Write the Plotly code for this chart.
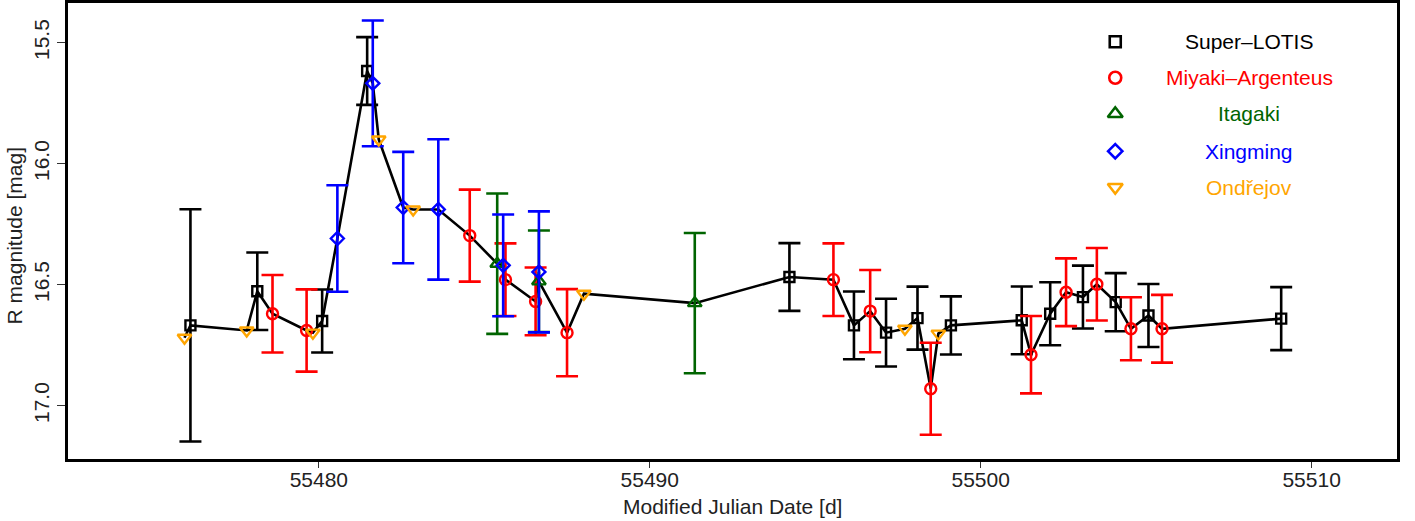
import plotly.graph_objects as go

# ---- data (MJD, R magnitude, 1-sigma error) ----
lotis_t = [55476.12, 55478.14, 55480.10, 55481.46, 55494.22, 55496.17, 55497.14, 55498.09,
           55499.10, 55501.24, 55502.10, 55503.09, 55504.08, 55505.07, 55509.08]
lotis_m = [16.668, 16.527, 16.650, 15.617, 16.468, 16.668, 16.698, 16.638,
           16.668, 16.647, 16.620, 16.551, 16.572, 16.627, 16.640]
lotis_e = [0.48, 0.16, 0.13, 0.14, 0.14, 0.14, 0.14, 0.13, 0.12, 0.14, 0.13, 0.13, 0.12, 0.13, 0.13]

miyaki_t = [55478.60, 55479.63, 55484.56, 55485.64, 55486.55, 55487.50, 55495.55,
            55496.66, 55498.49, 55501.52, 55502.58, 55503.51, 55504.54, 55505.48]
miyaki_m = [16.620, 16.689, 16.297, 16.479, 16.569, 16.698, 16.479,
            16.609, 16.930, 16.789, 16.531, 16.498, 16.682, 16.682]
miyaki_e = [0.16, 0.17, 0.19, 0.15, 0.14, 0.18, 0.15, 0.17, 0.19, 0.16, 0.14, 0.15, 0.13, 0.14]

itagaki_t = [55485.39, 55486.65, 55491.36]
itagaki_m = [16.413, 16.486, 16.576]
itagaki_e = [0.29, 0.21, 0.29]

xingming_t = [55480.56, 55481.63, 55482.55, 55483.61, 55485.57, 55486.65]
xingming_m = [16.309, 15.668, 16.181, 16.189, 16.420, 16.447]
xingming_e = [0.22, 0.26, 0.23, 0.29, 0.21, 0.25]

ondrejov_t = [55475.94, 55477.82, 55479.82, 55481.81, 55482.85, 55488.01, 55497.71, 55498.72]
ondrejov_m = [16.719, 16.689, 16.698, 15.900, 16.189, 16.537, 16.682, 16.702]

series_names = ["Super\u2013LOTIS", "Miyaki\u2013Argenteus", "Itagaki", "Xingming", "Ondřejov"]
series_colors = ["#000000", "#FF0000", "#006400", "#0000FF", "#FFA500"]
series_symbols = ["square-open", "circle-open", "triangle-up-open", "diamond-open", "triangle-down-open"]
series_sizes = [10, 11, 12, 10, 12]

xticks = [55480, 55490, 55500, 55510]
yticks = [15.5, 16.0, 16.5, 17.0]

FONT = "Liberation Sans, Arial, Helvetica, sans-serif"
TXT = "#222222"

series = [
    (lotis_t, lotis_m, lotis_e),
    (miyaki_t, miyaki_m, miyaki_e),
    (itagaki_t, itagaki_m, itagaki_e),
    (xingming_t, xingming_m, xingming_e),
    (ondrejov_t, ondrejov_m, None),
]

fig = go.Figure()

# combined light curve line through all points in time order
allpts = []
for t, m, _ in series:
    allpts += list(zip(t, m))
allpts.sort()
fig.add_trace(go.Scatter(x=[p[0] for p in allpts], y=[p[1] for p in allpts], mode="lines",
                         line=dict(color="black", width=2.6), showlegend=False, hoverinfo="skip"))

for (t, m, e), name, col, sym, sz in zip(series, series_names, series_colors, series_symbols, series_sizes):
    kw = {}
    if e is not None:
        kw["error_y"] = dict(type="data", array=e, symmetric=True, color=col, thickness=2.6, width=11)
    fig.add_trace(go.Scatter(x=t, y=m, mode="markers", name=name,
                             marker=dict(symbol=sym, size=sz, color=col, line=dict(width=2.4, color=col)),
                             showlegend=False, **kw))

# custom legend (R style: symbol then centred text)
leg_y = [0.915, 0.836, 0.757, 0.675, 0.596]
leg_mx = 0.788
leg_tx = 0.889
for name, col, sym, sz, yy in zip(series_names, series_colors, series_symbols, series_sizes, leg_y):
    fig.add_trace(go.Scatter(x=[leg_mx], y=[yy], xaxis="x2", yaxis="y2", mode="markers",
                             marker=dict(symbol=sym, size=sz + 1, color=col, line=dict(width=2.6, color=col)),
                             showlegend=False, hoverinfo="skip"))
    fig.add_annotation(x=leg_tx, y=yy, xref="x2", yref="y2", text=name, showarrow=False,
                       xanchor="center", yanchor="middle", font=dict(family=FONT, size=21, color=col))

# axis titles
fig.add_annotation(x=0.5, y=-0.104, xref="paper", yref="paper", text="Modified Julian Date [d]",
                   showarrow=False, xanchor="center", yanchor="middle",
                   font=dict(family=FONT, size=21, color=TXT))
fig.add_annotation(x=-0.040, y=0.49, xref="paper", yref="paper", text="R magnitude [mag]",
                   showarrow=False, xanchor="center", yanchor="middle", textangle=-90,
                   font=dict(family=FONT, size=21, color=TXT))

fig.update_layout(
    width=1415, height=521,
    margin=dict(l=68, r=18, t=3, b=62, autoexpand=False),
    paper_bgcolor="white", plot_bgcolor="white",
    showlegend=False,
    font=dict(family=FONT, size=21, color=TXT),
    xaxis=dict(range=[55472.42, 55512.58], tickvals=xticks, ticktext=[str(v) for v in xticks],
               automargin=False, ticklabelstandoff=-6,
               showgrid=False, zeroline=False, showline=True, linecolor="black", linewidth=3, mirror=True,
               ticks="outside", ticklen=6, tickwidth=1, tickcolor="#333333",
               tickfont=dict(family=FONT, size=21, color=TXT)),
    yaxis=dict(range=[17.22, 15.336], tickvals=yticks, ticktext=["%.1f" % v for v in yticks],
               tickangle=-90, automargin=False,
               showgrid=False, zeroline=False, showline=True, linecolor="black", linewidth=3, mirror=True,
               ticks="outside", ticklen=8, tickwidth=1, tickcolor="#333333",
               tickfont=dict(family=FONT, size=21, color=TXT)),
    xaxis2=dict(domain=[0, 1], range=[0, 1], overlaying="x", visible=False, fixedrange=True),
    yaxis2=dict(domain=[0, 1], range=[0, 1], overlaying="y", visible=False, fixedrange=True),
)

fig.write_html("out.html", config={"displayModeBar": False},
               post_script="document.body.style.margin='0px';document.body.style.overflow='hidden';")
